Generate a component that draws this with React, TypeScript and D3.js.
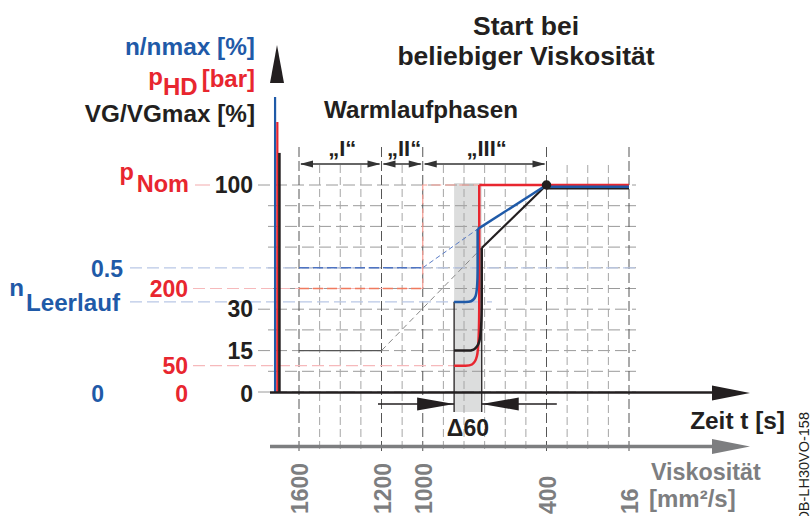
import React from "react";
import * as d3 from "d3";

// ---------- data (x in grid columns, y in percent of axis height) ----------
const phaseNames = ["„I“", "„II“", "„III“"];
const phaseBounds = [0, 4, 6, 12];
const viscosityLabels = ["1600", "1200", "1000", "400", "16"];
const viscosityPos = [0, 4, 6, 12, 16];
const gridCols = [0, 1, 2, 3, 4, 5, 6, 7, 8, 9, 10, 11, 12, 13, 14, 15, 16];
const gridRows = [0, 10, 20, 30, 40, 50, 60, 70, 80, 90, 100];

const vgTickVals = [0, 20, 40, 100];
const vgTickLabels = ["0", "15", "30", "100"];
const pTickVals = [0, 12.7, 50];
const pTickLabels = ["0", "50", "200"];
const nTickVals = [0, 60];
const nTickLabels = ["0", "0.5"];
const nIdleLevel = 43.5;
const pNomLevel = 100;

const nStart: [number, number][] = [[-1.16, 0], [-1.16, 142.5]];
const pStart: [number, number][] = [[-1.05, 0], [-1.05, 130.4]];
const vgStart: [number, number][] = [[-0.95, 0], [-0.95, 115.5]];

const nIdle: [number, number][] = [[0, 60], [6, 60]];
const nBridge: [number, number][] = [[6, 60], [8.66, 78.7]];
const nRamp: [number, number][] = [[7.52, 43.5], [8.05, 43.5], [8.66, 43.5], [8.66, 60], [8.66, 78.7]];
const nRise: [number, number][] = [[8.66, 78.7], [12, 100]];
const nFinal: [number, number][] = [[12, 99.2], [16, 99.2]];

const pIdle: [number, number][] = [[0, 50], [6, 50]];
const pStep: [number, number][] = [[6, 50], [6, 100], [8.74, 100]];
const pRamp: [number, number][] = [[7.52, 12.7], [8.05, 12.7], [8.74, 12.7], [8.74, 40], [8.74, 100]];
const pFinal: [number, number][] = [[8.74, 100], [16, 100]];

const vgIdle: [number, number][] = [[0, 20], [4, 20]];
const vgBridge: [number, number][] = [[4, 20], [8.86, 69.6]];
const vgRamp: [number, number][] = [[7.52, 20], [8.1, 20], [8.86, 20], [8.86, 45], [8.86, 69.6]];
const vgRise: [number, number][] = [[8.86, 69.6], [12, 100]];
const vgFinal: [number, number][] = [[12, 98.4], [16, 98.4]];

const bandRange = [7.52, 8.86];
const deltaLabel = "Δ60";
const deltaLineExtent = [3.83, 12.5];
const meetPoint: [number, number] = [12, 100];

// ---------- styles ----------
const BLUE = "#1f5aa8";
const RED = "#e8262f";
const BLACK = "#231f20";
const GRAY = "#7d7e80";
const FONT = "'Liberation Sans', Arial, Helvetica, sans-serif";

export default function App() {
  const x = d3.scaleLinear().domain([0, 16]).range([299, 629]);
  const y = d3.scaleLinear().domain([0, 100]).range([392, 185]);
  const line = d3.line<[number, number]>().x((d) => x(d[0])).y((d) => y(d[1]));
  const basis = d3
    .line<[number, number]>()
    .x((d) => x(d[0]))
    .y((d) => y(d[1]))
    .curve(d3.curveBasis);

  const tri = (pts: number[][]) => "M" + pts.map((p) => p.join(",")).join("L") + "Z";

  const bandL = x(bandRange[0]);
  const bandR = x(bandRange[1]);
  const arrowY = 404;

  return (
    <svg
      width={810}
      height={516}
      style={{ position: "absolute", left: 0, top: 0, background: "#fff" }}
      fontFamily={FONT}
      fontWeight="bold"
    >
      {/* band */}
      <rect x={bandL} y={y(100) - 2} width={bandR - bandL} height={412 - y(100) + 2} fill="#dcdddd" />

      {/* horizontal grid */}
      {gridRows.map((r) => (
        <line
          key={"r" + r}
          x1={vgTickVals.includes(r) ? 258 : 268}
          x2={636}
          y1={y(r)}
          y2={y(r)}
          stroke="#9a9a9a"
          strokeWidth={1}
          strokeDasharray="12 5"
        />
      ))}
      {/* vertical grid */}
      {gridCols.map((c) => {
        const major = viscosityPos.includes(c);
        return (
          <line
            key={"c" + c}
            x1={x(c)}
            x2={x(c)}
            y1={major ? 147 : 165}
            y2={453}
            stroke={major ? "#555" : "#a6a6a6"}
            strokeWidth={1}
            strokeDasharray={major ? "10 4" : "8 4"}
          />
        );
      })}

      {/* colored reference lines */}
      <line x1={130} x2={636} y1={y(nTickVals[1])} y2={y(nTickVals[1])} stroke="#b9c8e6" strokeWidth={1.2} strokeDasharray="12 5" />
      <line x1={130} x2={492} y1={y(nIdleLevel)} y2={y(nIdleLevel)} stroke="#b9c8e6" strokeWidth={1.2} strokeDasharray="12 5" />
      <line x1={193} x2={x(6)} y1={y(pTickVals[2])} y2={y(pTickVals[2])} stroke="#f6b9bb" strokeWidth={1.2} strokeDasharray="12 5" />
      <line x1={193} x2={bandL} y1={y(pTickVals[1])} y2={y(pTickVals[1])} stroke="#f6b9bb" strokeWidth={1.2} strokeDasharray="12 5" />
      <line x1={195} x2={210} y1={y(pNomLevel)} y2={y(pNomLevel)} stroke="#f6b9bb" strokeWidth={1.2} />

      {/* idle / phase I-II lines */}
      <path d={line(nIdle)!} fill="none" stroke="#4f74c2" strokeWidth={1.5} strokeDasharray="10 4" />
      <path d={line(nBridge)!} fill="none" stroke="#5a7cc6" strokeWidth={1} strokeDasharray="5 3" />
      <path d={line(pIdle)!} fill="none" stroke="#f07a5e" strokeWidth={1.5} strokeDasharray="10 4" />
      <path d={line(pStep)!} fill="none" stroke="#f59a90" strokeWidth={1.2} strokeDasharray="10 4" />
      <path d={line(vgIdle)!} fill="none" stroke="#555" strokeWidth={1.3} />
      <path d={line(vgBridge)!} fill="none" stroke="#888" strokeWidth={1} strokeDasharray="6 4" />

      {/* band edges */}
      <line x1={bandL} x2={bandL} y1={y(nIdleLevel)} y2={412} stroke={BLACK} strokeWidth={1.3} />
      <line x1={bandR} x2={bandR} y1={y(69.6)} y2={412} stroke={BLACK} strokeWidth={1.3} />

      {/* start verticals at the axis */}
      <path d={line(nStart)!} stroke={BLUE} strokeWidth={2.2} />
      <path d={line(pStart)!} stroke={RED} strokeWidth={2.2} />
      <path d={line(vgStart)!} stroke={BLACK} strokeWidth={2.6} />

      {/* warm-up curves */}
      <path d={line(pFinal)!} fill="none" stroke={RED} strokeWidth={2.5} />
      <path d={basis(pRamp)!} fill="none" stroke={RED} strokeWidth={2.5} />
      <path d={line(vgFinal)!} fill="none" stroke={BLACK} strokeWidth={2.5} />
      <path d={basis(vgRamp)!} fill="none" stroke={BLACK} strokeWidth={2.5} />
      <path d={line(vgRise)!} fill="none" stroke={BLACK} strokeWidth={2.2} />
      <path d={line(nFinal)!} fill="none" stroke={BLUE} strokeWidth={2.5} />
      <path d={basis(nRamp)!} fill="none" stroke={BLUE} strokeWidth={2.5} />
      <path d={line(nRise)!} fill="none" stroke={BLUE} strokeWidth={2.5} />
      <circle cx={x(meetPoint[0])} cy={y(meetPoint[1])} r={4} fill={BLACK} stroke={BLACK} strokeWidth={1.5} />

      {/* axes */}
      <path d={tri([[270, 83], [284, 83], [277, 45]])} fill={BLACK} />
      <line x1={270} x2={714} y1={392.5} y2={392.5} stroke={BLACK} strokeWidth={2.5} />
      <path d={tri([[712, 385.5], [712, 400.5], [750, 393]])} fill={BLACK} />
      <line x1={270} x2={714} y1={446.5} y2={446.5} stroke={GRAY} strokeWidth={3.5} />
      <path d={tri([[712, 439], [712, 454], [750, 446.5]])} fill={GRAY} />

      {/* phase arrows */}
      {phaseNames.map((name, i) => {
        const a = x(phaseBounds[i]);
        const b = x(phaseBounds[i + 1]);
        const ay = 164;
        return (
          <g key={name}>
            <line x1={a + 2} x2={b - 2} y1={ay} y2={ay} stroke="#333" strokeWidth={1.3} />
            <path d={tri([[a + 1, ay], [a + 14, ay - 3.5], [a + 14, ay + 3.5]])} fill="#333" />
            <path d={tri([[b - 1, ay], [b - 14, ay - 3.5], [b - 14, ay + 3.5]])} fill="#333" />
            <text x={(a + b) / 2 + 2} y={156} textAnchor="middle" fontSize={22} fill={BLACK}>
              {name}
            </text>
          </g>
        );
      })}

      {/* delta 60 */}
      <line x1={x(deltaLineExtent[0])} x2={bandL} y1={arrowY} y2={arrowY} stroke={BLACK} strokeWidth={1.3} />
      <path d={tri([[bandL, arrowY], [bandL - 37, arrowY - 6.5], [bandL - 37, arrowY + 6.5]])} fill={BLACK} />
      <line x1={bandR} x2={x(deltaLineExtent[1])} y1={arrowY} y2={arrowY} stroke={BLACK} strokeWidth={1.3} />
      <path d={tri([[bandR, arrowY], [bandR + 37, arrowY - 6.5], [bandR + 37, arrowY + 6.5]])} fill={BLACK} />
      <text x={(bandL + bandR) / 2} y={436} textAnchor="middle" fontSize={23} fill={BLACK}>
        {deltaLabel}
      </text>

      {/* titles */}
      <text x={526} y={35} textAnchor="middle" fontSize={26.5} fill={BLACK}>Start bei</text>
      <text x={526} y={65} textAnchor="middle" fontSize={26.5} fill={BLACK}>beliebiger Viskosität</text>
      <text x={421} y={118} textAnchor="middle" fontSize={24.2} fill={BLACK}>Warmlaufphasen</text>

      {/* y-axis titles */}
      <text x={255} y={55} textAnchor="end" fontSize={24.4} fill={BLUE}>n/nmax [%]</text>
      <text x={255} y={85} textAnchor="end" fontSize={24} fill={RED}>
        p<tspan dy={10}>HD</tspan>
        <tspan dy={-8} dx={4}>[bar]</tspan>
      </text>
      <text x={255} y={122} textAnchor="end" fontSize={24.3} fill={BLACK}>VG/VGmax [%]</text>

      {/* tick labels */}
      {vgTickVals.map((v, i) => (
        <text key={"vg" + v} x={253} y={y(v) + (v === 0 ? 10 : 8)} textAnchor="end" fontSize={23} fill={BLACK}>
          {vgTickLabels[i]}
        </text>
      ))}
      {pTickVals.map((v, i) => (
        <text key={"p" + v} x={188} y={y(v) + (v === 0 ? 10 : 8)} textAnchor="end" fontSize={23} fill={RED}>
          {pTickLabels[i]}
        </text>
      ))}
      {nTickVals.map((v, i) => (
        <text key={"n" + v} x={v === 0 ? 104 : 123} y={y(v) + (v === 0 ? 10 : 9)} textAnchor="end" fontSize={23} fill={BLUE}>
          {nTickLabels[i]}
        </text>
      ))}
      <text x={189} y={y(pNomLevel) - 5} textAnchor="end" fontSize={23.5} fill={RED}>
        p<tspan dy={12} dx={3}>Nom</tspan>
      </text>
      <text x={120} y={y(nIdleLevel) - 6} textAnchor="end" fontSize={24.2} fill={BLUE}>
        n<tspan dy={15} dx={2}>Leerlauf</tspan>
      </text>

      {/* x-axis titles */}
      <text x={785} y={429} textAnchor="end" fontSize={24.4} fill={BLACK}>Zeit t [s]</text>
      <text x={651} y={480} fontSize={23.3} fill={GRAY}>Viskosität</text>
      <text x={649} y={507} fontSize={24} fill={GRAY}>[mm²/s]</text>

      {/* viscosity tick labels */}
      {viscosityPos.map((c, i) => (
        <text
          key={"v" + c}
          transform={`translate(${x(c) + 9},514) rotate(-90)`}
          fontSize={23}
          fill={GRAY}
        >
          {viscosityLabels[i]}
        </text>
      ))}

      {/* figure code */}
      <text transform="translate(809,412) rotate(-90)" textAnchor="end" fontSize={14.5} fontWeight="normal" fill={BLACK}>
        DB-LH30VO-158
      </text>
    </svg>
  );
}
